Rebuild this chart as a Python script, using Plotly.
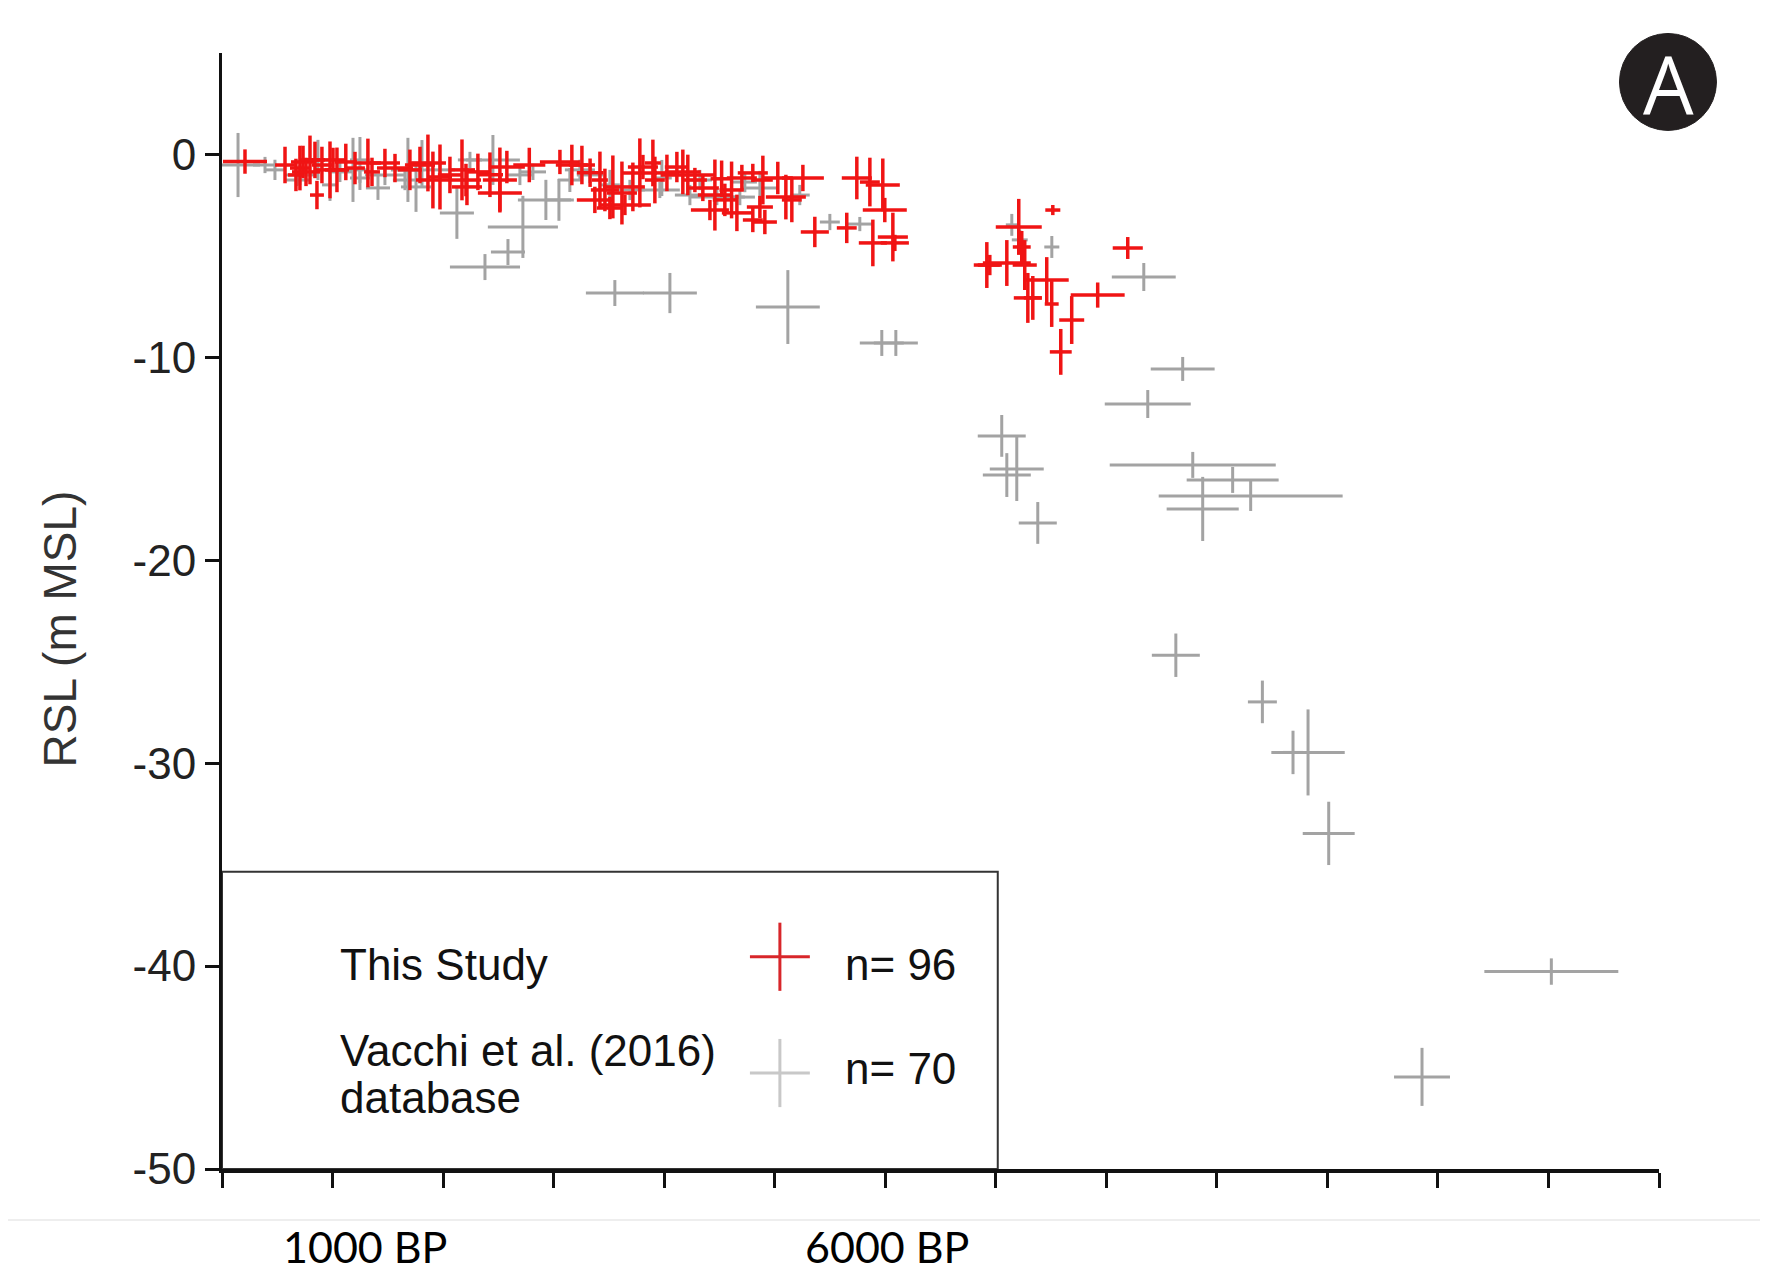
import plotly.graph_objects as go

# ---------------- data ----------------
# This study (red): age (yr BP), RSL (m), age error, RSL error
red_age = [208, 705, 733, 796, 760, 859, 977, 1040, 1004, 1320, 1357, 1565, 1863, 1908, 1972, 2171,
           2207, 2514, 2577, 2514, 2424, 2315, 2216, 669, 904, 3165, 3256, 3419, 3464, 3536, 3618,
           3645, 3717, 3780, 3808, 3898, 3916, 4025, 4169, 4214, 4459, 4350, 4414, 4115, 4610, 4658,
           4802, 4893, 4802, 4911, 5101, 5155, 5255, 5363, 5652, 5743, 5861, 5978, 5996, 5888, 6069,
           6087, 4549, 4703, 6919, 6946, 7100, 7208, 7235, 7262, 7290, 7335, 7461, 7506, 7516, 7687,
           7922, 7588, 8194, 570, 841, 1203, 1474, 1700, 1791, 2062, 3057, 3373, 3509, 4278, 4866,
           5028, 1120, 2780, 3330, 4520]
red_rsl = [-0.35, -0.67, -0.37, -0.27, -0.86, -2.0, -0.76, -0.76, -0.27, -0.42, -0.86, -0.67, -0.42,
           -1.26, -1.11, -0.76, -1.26, -1.26, -0.62, -1.9, -1.0, -0.86, -1.6, -1.01, -0.52, -0.52,
           -0.52, -1.26, -1.75, -1.6, -1.9, -2.49, -1.6, -0.91, -0.62, -0.42, -1.26, -0.91, -0.86,
           -1.01, -2.0, -1.65, -2.74, -0.62, -1.75, -2.88, -0.91, -1.26, -3.23, -3.33, -2.1, -2.24,
           -1.16, -3.82, -3.62, -1.16, -1.36, -1.5, -2.74, -4.36, -4.07, -4.36, -2.24, -1.16, -5.45,
           -5.45, -5.35, -3.57, -4.56, -5.45, -7.07, -7.07, -6.19, -7.37, -2.74, -8.16, -6.93, -9.73,
           -4.61, -0.52, -0.27, -0.67, -0.42, -0.76, -0.52, -1.01, -0.37, -2.24, -2.64, -1.26, -2.59,
           -1.16, -0.37, -0.52, -0.9, -1.2]
red_age_err = [199, 90, 109, 90, 127, 63, 136, 109, 109, 118, 72, 163, 163, 154, 109, 118, 136, 154,
               163, 199, 118, 109, 136, 72, 90, 145, 118, 72, 127, 90, 136, 235, 109, 154, 136, 72,
               90, 109, 163, 244, 154, 145, 172, 109, 109, 136, 136, 90, 90, 109, 181, 90, 190, 127,
               90, 136, 90, 154, 199, 127, 136, 127, 109, 136, 118, 109, 217, 208, 81, 109, 127, 81,
               199, 63, 68, 113, 244, 99, 136, 90, 90, 90, 136, 109, 136, 109, 181, 163, 118, 109,
               118, 136, 100, 145, 120, 100]
red_rsl_err = [0.6, 1.1, 0.8, 1.2, 0.7, 0.7, 1.4, 1.1, 0.6, 1.2, 0.7, 0.7, 1.4, 1.4, 1.6,
               1.5, 0.8, 1.6, 0.8, 0.9, 1.1, 0.9, 0.9, 0.8, 0.9, 1.0, 0.95, 1.4, 1.05, 1.55,
               1.55, 0.5, 1.2, 1.7, 0.6, 1.15, 1.15, 0.9, 1.1, 1.0, 1.75, 0.65, 0.5, 0.75, 1.4,
               0.9, 0.45, 1.2, 0.6, 0.6, 1.1, 1.1, 0.65, 0.75, 0.75, 1.05, 1.2, 1.3, 0.6,
               1.15, 1.2, 0.4, 0.8, 0.65, 1.13, 0.5, 1.13, 1.38, 0.79, 1.23, 1.23, 1.08, 1.13, 1.13,
               0.25, 1.18, 0.62, 1.13, 0.54, 0.9, 0.9, 0.8, 0.7, 1.0, 0.9, 0.9, 0.6, 0.65, 0.55,
               0.6, 0.55, 0.8, 0.9, 0.85, 0.7, 0.9]

# Vacchi et al. (2016) database (grey)
grey_age = [145, 678, 977, 1185, 1248, 1411, 1682, 1755, 1809, 2451, 2722, 2587, 2379, 2930, 3048,
            2125, 3554, 4052, 2813, 3328, 3979, 4477, 4685, 4866, 5119, 5969, 6096, 5770, 7145, 7507,
            8339, 8691, 8375, 7054, 7190, 7100, 7380, 8782, 9143, 9306, 8872, 8629, 9412, 9689, 9825,
            10012, 12026, 10856, 389, 705, 868, 1067, 1474, 1972, 2243, 3238, 3690, 3961, 4233, 4730,
            5499, 7217, 3509, 2695, 1655, 479, 1248, 4323, 3147, 5227]
grey_rsl = [-0.52, -1.26, -1.5, -0.76, -0.27, -1.65, -0.76, -1.6, -0.42, -0.27, -3.57, -4.81, -5.55,
            -2.24, -2.24, -2.88, -6.83, -6.83, -0.86, -1.01, -1.16, -2.1, -2.1, -1.65, -7.52, -9.29,
            -9.29, -3.43, -3.47, -4.56, -6.04, -10.57, -12.3, -13.87, -15.5, -15.8, -18.16, -15.3,
            -16.04, -16.83, -17.47, -24.68, -26.98, -29.47, -29.47, -33.46, -40.27, -45.46, -0.52,
            -1.01, -0.27, -0.86, -1.01, -0.76, -0.27, -0.76, -1.75, -1.75, -2.0, -1.36, -3.33, -4.21,
            -1.5, -1.01, -1.26, -0.76, -1.16, -1.26, -1.26, -2.0]
grey_age_err = [199, 109, 72, 136, 90, 109, 154, 136, 90, 244, 317, 154, 317, 253, 109, 154, 262, 244,
                118, 118, 90, 253, 136, 154, 289, 199, 199, 118, 54, 68, 289, 289, 389, 217, 244, 217,
                172, 751, 416, 832, 326, 217, 131, 90, 332, 235, 606, 253, 109, 136, 90, 109, 181, 136,
                109, 136, 136, 181, 136, 109, 90, 72, 90, 109, 109, 90, 90, 109, 109, 90]
grey_rsl_err = [1.58, 0.3, 0.79, 1.58, 1.13, 0.59, 1.58, 1.23, 1.13, 1.23, 1.53, 0.64, 0.64, 0.99,
                1.03, 1.28, 0.64, 0.99, 0.4, 0.4, 0.89, 0.4, 0.4, 0.84, 1.82, 0.64, 0.64, 0.35, 0.54,
                0.54, 0.69, 0.59, 0.69, 1.03, 1.58, 1.08, 1.03, 0.64, 0.64, 0.74, 1.58, 1.07, 1.05,
                1.07, 2.12, 1.56, 0.65, 1.43, 0.4, 0.5, 0.99, 0.5, 0.5, 0.5, 0.4, 0.5, 0.5, 0.4, 0.5,
                0.5, 0.4, 0.5, 0.74, 0.5, 0.5, 0.5, 0.59, 0.5, 0.59, 0.5]

x_ticks = list(range(0, 13001, 1000))
x_label_vals = [1000, 6000]
x_label_text = ["1000 BP", "6000 BP"]
y_ticks = [0, -10, -20, -30, -40, -50]
y_tick_text = ["0", "-10", "-20", "-30", "-40", "-50"]

legend_names = ["This Study", "Vacchi et al. (2016)", "database"]
legend_counts = ["n= 96", "n= 70"]

# ---------------- styles / layout constants ----------------
RED = "#f01414"
GREY = "#a3a3a3"
FONT = "Liberation Sans, Arial, sans-serif"

fig = go.Figure()


def cross_trace(x, y, ex, ey, color, thick=3):
    return go.Scatter(
        x=x, y=y, mode="markers",
        marker=dict(size=0.1, color="rgba(0,0,0,0)"),
        error_x=dict(type="data", array=ex, symmetric=True, width=0, thickness=thick, color=color),
        error_y=dict(type="data", array=ey, symmetric=True, width=0, thickness=thick, color=color),
        showlegend=False, hoverinfo="skip",
    )


fig.add_trace(cross_trace(grey_age, grey_rsl, grey_age_err, grey_rsl_err, GREY, 3))
fig.add_trace(cross_trace(red_age, red_rsl, red_age_err, red_rsl_err, RED, 3.5))

# legend box (data coordinates)
box_x1, box_y0 = 7018, -35.35
fig.add_shape(type="rect", xref="x", yref="y", x0=0, x1=box_x1, y0=-50, y1=box_y0,
              line=dict(color="#333333", width=2), fillcolor="white", layer="below")

# legend keys
key_x, key_y = [5047], [-39.54, -45.27]
fig.add_trace(cross_trace(key_x, [key_y[0]], [271], [1.68], "#d8262a", 3))
fig.add_trace(cross_trace(key_x, [key_y[1]], [271], [1.68], "#c8c8c8", 3))

txt_x = 1049
tfont = dict(family=FONT, size=44, color="#111")
fig.add_annotation(x=txt_x, y=-39.9, xref="x", yref="y", text=legend_names[0], showarrow=False,
                   xanchor="left", yanchor="middle", font=tfont)
fig.add_annotation(x=txt_x, y=-44.14, xref="x", yref="y", text=legend_names[1], showarrow=False,
                   xanchor="left", yanchor="middle", font=tfont)
fig.add_annotation(x=txt_x, y=-46.46, xref="x", yref="y", text=legend_names[2], showarrow=False,
                   xanchor="left", yanchor="middle", font=tfont)
fig.add_annotation(x=5616, y=-39.9, xref="x", yref="y", text=legend_counts[0], showarrow=False,
                   xanchor="left", yanchor="middle", font=tfont)
fig.add_annotation(x=5616, y=-45.07, xref="x", yref="y", text=legend_counts[1], showarrow=False,
                   xanchor="left", yanchor="middle", font=tfont)

# BP labels below the axis
label_shift = [32, 2]
for v, t, s in zip(x_label_vals, x_label_text, label_shift):
    fig.add_annotation(x=v, y=-0.069, xref="x", yref="paper", text=t, showarrow=False,
                       xanchor="center", yanchor="middle", xshift=s,
                       font=dict(family="Lato, sans-serif", size=43, color="#000"))

# y axis title
fig.add_annotation(x=-0.113, y=0.484, xref="paper", yref="paper", text="RSL (m MSL)",
                   showarrow=False, textangle=-90, xanchor="center", yanchor="middle",
                   font=dict(family=FONT, size=46, color="#333"))

# panel badge "A"
fig.add_shape(type="circle", xref="paper", yref="paper", x0=0.9725, x1=1.0400, y0=0.9306, y1=1.0175,
              line=dict(color="#231f20", width=1), fillcolor="#231f20")
fig.add_annotation(x=1.0063, y=0.974, xref="paper", yref="paper", text="A", showarrow=False,
                   xanchor="center", yanchor="middle",
                   font=dict(family="Open Sans, sans-serif", size=80, color="white"))

# image frame lines at right / bottom
fig.add_shape(type="line", xref="paper", yref="paper", x0=1.0738, x1=1.0738, y0=-0.0457, y1=1.06,
              line=dict(color="#bdbdbd", width=3))
fig.add_shape(type="line", xref="paper", yref="paper", x0=-0.2, x1=1.0738, y0=-0.0457, y1=-0.0457,
              line=dict(color="#eeeeee", width=2))

# page body has an 8px margin: shift the plot area so it lands where the reference has it
fig.update_layout(
    width=1768, height=1275,
    margin=dict(l=214, r=117, t=45, b=114),
    paper_bgcolor="white", plot_bgcolor="white",
    showlegend=False,
    xaxis=dict(range=[0, 13000], tickvals=x_ticks, showticklabels=False, ticks="outside",
               ticklen=15, tickwidth=3, tickcolor="#111", showline=True, linewidth=4,
               linecolor="#111", showgrid=False, zeroline=False),
    yaxis=dict(range=[-50, 5], tickvals=y_ticks, ticktext=y_tick_text, ticks="outside",
               ticklen=14, tickwidth=3, tickcolor="#111", showline=True, linewidth=3,
               linecolor="#111", showgrid=False, zeroline=False,
               tickfont=dict(family=FONT, size=44, color="#222")),
)

fig.write_html("out.html")
